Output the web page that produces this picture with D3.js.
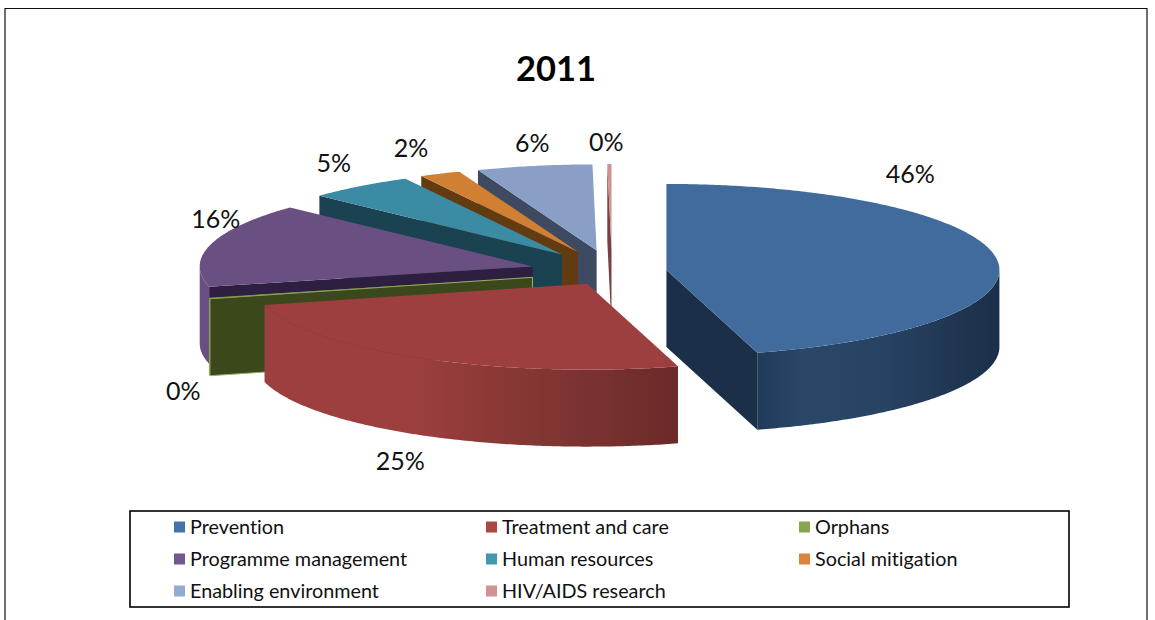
<!DOCTYPE html>
<html>
<head>
<meta charset="utf-8">
<script src="https://cdn.jsdelivr.net/npm/d3@7"></script>
<style>
html,body{margin:0;padding:0;background:#fff;}
svg{display:block;font-family:Lato,"Open Sans",sans-serif;font-variant-ligatures:none;}
</style>
</head>
<body>
<svg id="c" width="1155" height="620"></svg>
<script>
const title = "2011";
const categories = ["Prevention","Treatment and care","Orphans","Programme management","Human resources","Social mitigation","Enabling environment","HIV/AIDS research"];
const shares = [45.6,25.4,0.2,15.8,5.2,2,5.6,0.2];
const labels = ["46%","25%","0%","16%","5%","2%","6%","0%"];
const explosion = [0.67,0.61,1,1,1,1,1,1];
const topColors = ["#416a9d","#9e3f3f","#7f9a48","#6a4f82","#3b8ba5","#d07f33","#8a9fc5","#d09290"];
const legendColors = ["#4572a7","#aa4643","#89a54e","#71588f","#4198af","#db843d","#93a9cf","#d19392"];
const cutColors = ["#1b3048","#6b2929","#3b481c","#2e1e40","#1a4250","#633b10","#3e4a62","#7a4040"];
const labelNudgeX = [-86,-21,-26,5,-26,-29,-2,-3];
const labelNudgeY = [-84,103,93,-25,-23,-25,-23,-22];

const svg = d3.select("#c");
const cx = 612, cy = 272, rx = 333, ry = 86, depth = 77, exX = 82, exY = 22;
const sx = d3.scaleLinear().domain([-1,1]).range([-rx,rx]);
const sy = d3.scaleLinear().domain([-1,1]).range([-ry,ry]);
const TAU = Math.PI*2;

const arcs = d3.pie().sort(null).value(d=>d)(shares).map((a,i)=>{
  const mid = (a.startAngle+a.endAngle)/2;
  return {i, s:a.startAngle, e:a.endAngle, mid,
    ax: cx + Math.sin(mid)*exX*explosion[i],
    ay: cy - Math.cos(mid)*exY*explosion[i]};
});
const px = (d,t)=> d.ax + sx(Math.sin(t));
const py = (d,t)=> d.ay + sy(-Math.cos(t));
const line = d3.line().x(p=>p[0]).y(p=>p[1]);
function rim(d,a,b,off){
  const n = Math.max(2,Math.ceil((b-a)/0.01));
  return d3.range(n+1).map(k=>{const t=a+(b-a)*k/n; return [px(d,t),py(d,t)+off];});
}

const defs = svg.append("defs");
function grad(id,stops){
  const g = defs.append("linearGradient").attr("id",id).attr("x1",0).attr("x2",1).attr("y1",0).attr("y2",0);
  stops.forEach(s=>g.append("stop").attr("offset",s[0]).attr("stop-color",s[1]));
}
grad("wall0",[[0,"#213a59"],[0.2,"#2a4769"],[0.5,"#284364"],[0.8,"#1f3753"],[1,"#1a2f49"]]);
grad("wall1",[[0,"#9e3f3f"],[0.35,"#9e3f3f"],[0.6,"#873834"],[0.85,"#75302d"],[1,"#6b2929"]]);
const rimFill = i => i===0?"url(#wall0)":i===1?"url(#wall1)":topColors[i];

// page frame
svg.append("path").attr("d",line([[5,620],[5,8.5],[1147,8.5],[1147,620]]))
  .attr("fill","none").attr("stroke","#111").attr("stroke-width",1.2);

svg.append("text").attr("x",556).attr("y",81).attr("text-anchor","middle")
  .attr("font-size",34.5).attr("font-weight",700).attr("fill","#000").text(title);

// slices, back to front
const order = arcs.slice().sort((a,b)=>d3.descending(Math.cos(a.mid),Math.cos(b.mid)));
const g = svg.append("g");
order.forEach(d=>{
  const sl = g.append("g").attr("class","slice");
  const a = Math.max(d.s,TAU/4), b = Math.min(d.e,TAU*3/4);
  if (b>a) {
    const top = rim(d,a,b,0), bot = rim(d,a,b,depth).reverse();
    sl.append("path").attr("d",line(top.concat(bot))+"Z").attr("fill",rimFill(d.i));
  }
  const wall = t => [[d.ax,d.ay],[px(d,t),py(d,t)],[px(d,t),py(d,t)+depth],[d.ax,d.ay+depth]];
  if (d.s>=TAU/2 && d.s<TAU) {
    const w = sl.append("path").attr("d",line(wall(d.s))+"Z").attr("fill",cutColors[d.i]);
    if (d.i===2) w.attr("stroke","#9db26c").attr("stroke-width",1);
  }
  if (d.e>0 && d.e<TAU/2) {
    sl.append("path").attr("d",line(wall(d.e))+"Z").attr("fill",cutColors[d.i]);
  }
  sl.append("path").attr("d",line([[d.ax,d.ay]].concat(rim(d,d.s,d.e,0)))+"Z").attr("fill",topColors[d.i]);
});

// data labels
arcs.forEach(d=>{
  svg.append("text")
    .attr("x",px(d,d.mid)+labelNudgeX[d.i])
    .attr("y",py(d,d.mid)+labelNudgeY[d.i])
    .attr("dy","0.35em").attr("text-anchor","middle")
    .attr("font-size",25).attr("fill","#111").text(labels[d.i]);
});

// legend
svg.append("rect").attr("x",130).attr("y",511).attr("width",939).attr("height",96)
  .attr("fill","#fff").attr("stroke","#000").attr("stroke-width",1.6);
const colX = d3.scaleOrdinal().domain([0,1,2]).range([174,486,799]);
const rowY = d3.scaleLinear().domain([0,2]).range([527,591]);
categories.forEach((c,i)=>{
  const col = i%3, row = Math.floor(i/3);
  svg.append("rect").attr("x",colX(col)).attr("y",rowY(row)-5.5).attr("width",11).attr("height",11).attr("fill",legendColors[i]);
  svg.append("text").attr("x",colX(col)+16).attr("y",rowY(row)).attr("dy","0.35em")
    .attr("font-size",19.8).attr("fill","#111").text(c);
});
</script>
</body>
</html>
